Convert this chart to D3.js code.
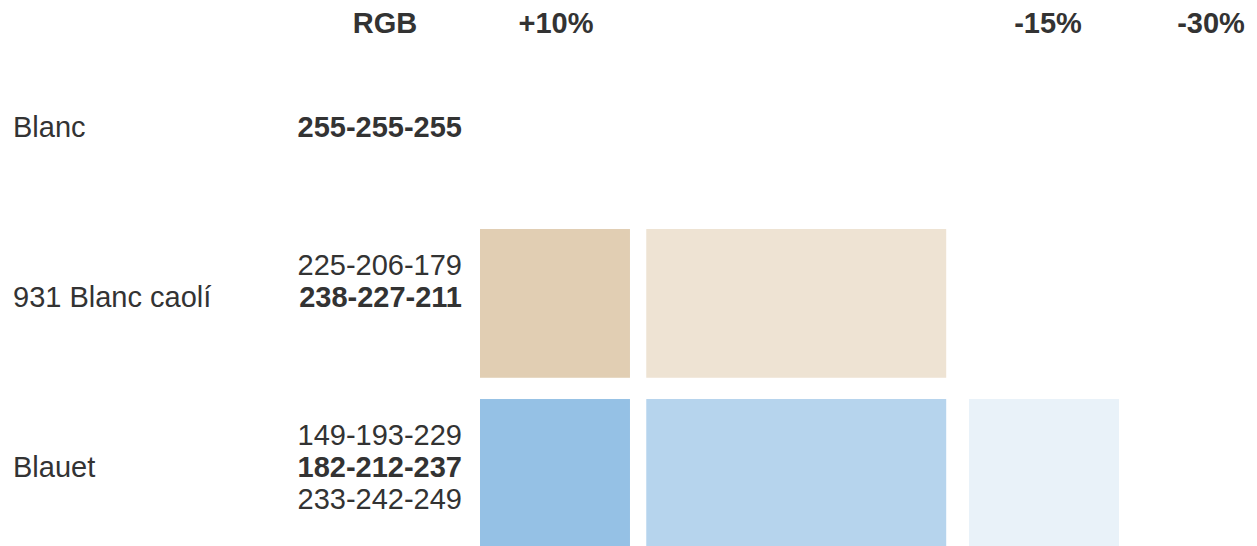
<!DOCTYPE html>
<html>
<head>
<meta charset="utf-8">
<script src="https://cdn.jsdelivr.net/npm/d3@7"></script>
<style>
  body { margin: 0; background: #fff; }
  text { font-family: "Liberation Sans", Arial, sans-serif; fill: #333; }
</style>
</head>
<body>
<script>
// colour rows and their RGB variants (null = no swatch)
const rows = ["Blanc", "931 Blanc caolí", "Blauet"];
const plus10 = [null, "225-206-179", "149-193-229"];
const base = ["255-255-255", "238-227-211", "182-212-237"];
const minus15 = [null, null, "233-242-249"];
const minus30 = [null, null, null];
const headers = ["+10%", "base", "-15%", "-30%"];

const width = 1257;
const height = 546;
const fontSize = 29;
const lineGap = 32;

const svg = d3.select("body")
  .append("svg")
  .attr("width", width)
  .attr("height", height);

// row bands
const y = d3.scaleBand()
  .domain(rows)
  .range([48.4, 558.4])
  .paddingInner(0.125)
  .paddingOuter(0.0625);

// swatch slots: the base colour spans two slots
const x = d3.scaleBand()
  .domain(["+10%", "base1", "base2", "-15%", "-30%"])
  .range([480, 1282])
  .paddingInner(0.08);

const bw = x.bandwidth();

// header
const hdr = svg.append("g").attr("class", "header");
hdr.append("text")
  .attr("x", 385)
  .attr("y", 33)
  .attr("text-anchor", "middle")
  .attr("font-weight", "bold")
  .attr("font-size", fontSize)
  .text("RGB");

hdr.selectAll("text.col")
  .data(headers.filter((h) => h !== "base"))
  .join("text")
  .attr("class", "col")
  .attr("x", (d) => x(d) + bw / 2 + (d === "+10%" ? 1 : 4))
  .attr("y", 33)
  .attr("text-anchor", "middle")
  .attr("font-weight", "bold")
  .attr("font-size", fontSize)
  .text((d) => d);

// build the cells from the arrays
const cells = [];
rows.forEach((r, i) => {
  if (plus10[i]) cells.push({ row: r, col: "+10%", rgb: plus10[i], span: 1 });
  if (base[i]) cells.push({ row: r, col: "base1", rgb: base[i], span: 2 });
  if (minus15[i]) cells.push({ row: r, col: "-15%", rgb: minus15[i], span: 1 });
  if (minus30[i]) cells.push({ row: r, col: "-30%", rgb: minus30[i], span: 1 });
});

svg.append("g").attr("class", "swatches")
  .selectAll("rect")
  .data(cells)
  .join("rect")
  .attr("x", (d) => d.span === 2 ? x(d.col) + (x.step() - bw) / 4 : x(d.col))
  .attr("y", (d) => y(d.row))
  .attr("width", (d) => bw * d.span)
  .attr("height", y.bandwidth())
  .attr("fill", (d) => `rgb(${d.rgb.split("-").join(",")})`);

// row labels and RGB lists
const rowG = svg.append("g").attr("class", "rows")
  .selectAll("g")
  .data(rows)
  .join("g")
  .attr("transform", (d) => `translate(0,${y(d) + y.bandwidth() / 2 + 3.5})`);

rowG.append("text")
  .attr("x", 13)
  .attr("font-size", fontSize)
  .text((d) => d);

rowG.each(function (d, i) {
  const lines = [
    { v: plus10[i], dy: -lineGap, bold: false },
    { v: base[i], dy: 0, bold: true },
    { v: minus15[i], dy: lineGap, bold: false }
  ].filter((l) => l.v);
  d3.select(this).selectAll("text.rgb")
    .data(lines)
    .join("text")
    .attr("class", "rgb")
    .attr("x", 462)
    .attr("y", (l) => l.dy)
    .attr("text-anchor", "end")
    .attr("font-size", fontSize)
    .attr("font-weight", (l) => l.bold ? "bold" : "normal")
    .text((l) => l.v);
});
</script>
</body>
</html>
